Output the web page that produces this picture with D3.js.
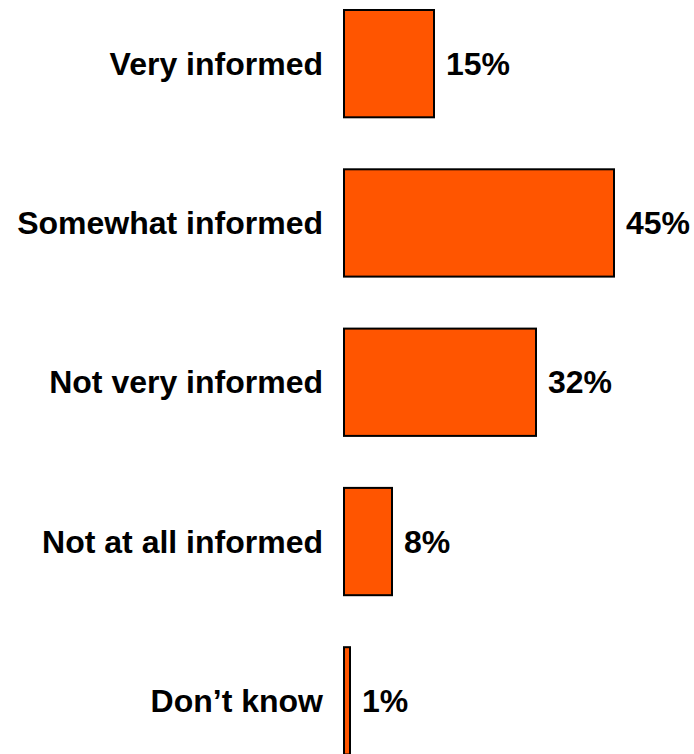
<!DOCTYPE html>
<html>
<head>
<meta charset="utf-8">
<script src="https://cdn.jsdelivr.net/npm/d3@7"></script>
<style>
  html, body { margin: 0; padding: 0; background: #fff; overflow: hidden; }
  svg { display: block; }
  text { font-family: "Liberation Sans", Arial, Helvetica, sans-serif; font-weight: bold; fill: #000; }
</style>
</head>
<body>
<svg id="chart" width="694" height="754"></svg>
<script>
// Survey responses: how informed respondents feel
const categories = ["Very informed", "Somewhat informed", "Not very informed", "Not at all informed", "Don\u2019t know"];
const percents = [15, 45, 32, 8, 1];

const W = 694, H = 754;
const svg = d3.select("#chart");

const barLeft = 344;
const x = d3.scaleLinear().domain([0, 45]).range([barLeft, 614]);

const y = d3.scaleBand()
  .domain(categories)
  .range([-16, 780.5])
  .paddingInner(0.3264)
  .paddingOuter(0.1632);

const data = categories.map((c, i) => ({ cat: c, val: percents[i] }));

const g = svg.append("g");

g.selectAll("rect.bar")
  .data(data)
  .join("rect")
  .attr("class", "bar")
  .attr("x", x(0))
  .attr("y", d => y(d.cat))
  .attr("width", d => x(d.val) - x(0))
  .attr("height", y.bandwidth())
  .attr("fill", "#FF5500")
  .attr("stroke", "#000")
  .attr("stroke-width", 2);

// category labels, right-aligned left of the bars
g.selectAll("text.cat")
  .data(data)
  .join("text")
  .attr("class", "cat")
  .attr("x", barLeft - 21)
  .attr("y", d => y(d.cat) + y.bandwidth() / 2)
  .attr("dy", "0.35em")
  .attr("text-anchor", "end")
  .style("font-size", "32px")
  .text(d => d.cat);

// value labels at the end of each bar
g.selectAll("text.val")
  .data(data)
  .join("text")
  .attr("class", "val")
  .attr("x", d => x(d.val) + 12)
  .attr("y", d => y(d.cat) + y.bandwidth() / 2)
  .attr("dy", "0.35em")
  .attr("text-anchor", "start")
  .style("font-size", "32px")
  .text(d => d.val + "%");
</script>
</body>
</html>
